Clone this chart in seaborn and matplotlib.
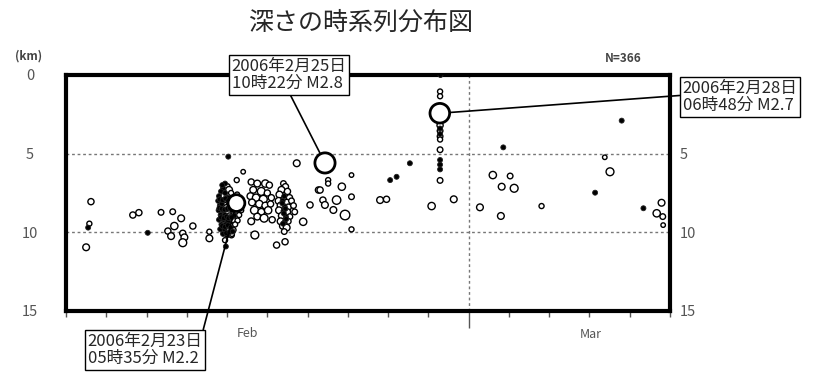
import numpy as np
import pandas as pd
import matplotlib
matplotlib.use("Agg")
import matplotlib.pyplot as plt
import matplotlib.dates as mdates
import matplotlib.transforms as mtransforms
from matplotlib.ticker import NullFormatter
import seaborn as sns

sns.set_style("white")
plt.rcParams["font.family"] = ["Noto Sans CJK JP", "DejaVu Sans"]

# ----------------------------------------------------------
# data : days since 2006-02-19 00:00, depth (km), magnitude
# (magnitude < 0 -> drawn as small filled dot)
# ----------------------------------------------------------
start = pd.Timestamp("2006-02-19")

# scattered events, Feb 19 - Feb 28
scat_t = [0.62, 0.55, 0.58, 0.50, 1.66, 1.81, 2.36, 2.65, 2.86, 2.03, 2.53, 2.61,
          2.69, 2.90, 2.94, 2.90, 3.15, 3.56, 3.56, 4.03, 4.40, 4.24, 5.73, 4.69,
          4.11, 5.23, 5.44, 6.27, 6.38, 6.51, 6.51, 6.31, 6.85, 7.09, 6.72, 6.43,
          6.06, 6.64, 6.93, 5.89, 7.09, 7.09, 7.80, 7.96, 8.05, 8.21, 8.54, 9.08,
          9.63]
scat_d = [8.05, 9.70, 9.45, 10.95, 8.90, 8.75, 8.73, 8.69, 9.11, 10.03, 9.92, 10.24,
          9.60, 10.06, 10.32, 10.66, 9.60, 9.96, 10.38, 5.19, 6.15, 6.68, 5.61, 10.17,
          10.17, 10.81, 10.60, 7.31, 7.95, 6.68, 6.90, 7.31, 7.10, 6.36, 7.95, 8.26,
          8.26, 8.58, 8.90, 9.33, 7.74, 9.81, 7.95, 7.90, 6.68, 6.47, 5.61, 8.33,
          7.90]
scat_m = [0.3, -0.3, 0.1, 0.4, 0.3, 0.3, 0.2, 0.2, 0.4, -0.3, 0.3, 0.4,
          0.5, 0.3, 0.4, 0.6, 0.3, 0.1, 0.4, -0.3, 0.0, 0.1, 0.4, 0.6,
          0.2, 0.3, 0.3, 0.3, 0.3, 0.1, 0.1, 0.3, 0.5, 0.0, 0.7, 0.4,
          0.3, 0.4, 0.9, 0.5, 0.2, 0.1, 0.4, 0.3, -0.2, -0.2, -0.3, 0.5,
          0.4]

# vertical column of Feb 28 sequence
col_t = [9.30, 9.29, 9.29, 9.29, 9.29, 9.29, 9.29, 9.29, 9.29, 9.29, 9.29, 9.29, 9.29, 9.29]
col_d = [0.00, 1.05, 1.35, 3.20, 3.40, 3.55, 3.75, 3.90, 4.10, 4.75, 5.40, 5.70, 6.00, 6.70]
col_m = [-0.3, 0.1, 0.1, 0.3, -0.3, 0.2, -0.3, 0.2, 0.1, 0.2, -0.2, -0.2, -0.2, 0.2]

# March events
mar_t = [10.86, 13.80, 13.38, 13.51, 10.60, 11.03, 10.82, 11.13, 13.14, 11.81, 10.28,
         10.80, 14.34, 14.79, 14.67, 14.82, 14.83]
mar_d = [4.60, 2.90, 5.23, 6.15, 6.36, 6.42, 7.10, 7.20, 7.48, 8.33, 8.41,
         8.96, 8.47, 8.12, 8.79, 9.00, 9.54]
mar_m = [-0.3, -0.2, 0.0, 0.6, 0.5, 0.2, 0.4, 0.6, -0.3, 0.1, 0.4,
         0.4, -0.3, 0.4, 0.5, 0.2, 0.0]

# dense swarm around Feb 23
swA_t = [3.95, 4.00, 3.90, 4.05, 3.85, 3.95, 4.10, 3.80, 3.92, 4.02, 4.15, 3.78, 3.88, 3.98,
         4.08, 4.30, 3.82, 3.93, 4.05, 4.20, 4.33, 3.79, 3.90, 4.00, 4.12, 4.25, 3.84, 3.95,
         4.06, 4.18, 4.30, 3.80, 3.91, 4.02, 4.14, 4.26, 3.86, 3.97, 4.08, 4.20, 3.83, 3.94,
         4.05, 4.16, 3.90, 4.00, 4.12, 3.95, 3.97, 4.25, 4.35, 3.88, 4.10, 3.99, 3.87,
         3.82, 3.89, 3.96, 4.03, 4.09, 4.16, 3.81, 3.87, 3.94, 4.01, 4.07, 4.13, 3.85,
         3.92, 3.99, 4.04, 4.11, 3.88, 3.95, 4.02, 4.09, 3.91, 3.98, 4.06, 4.14]
swA_d = [6.9, 7.1, 7.2, 7.3, 7.4, 7.5, 7.5, 7.7, 7.7, 7.8, 7.8, 8.0, 8.0, 8.1,
         8.0, 8.0, 8.3, 8.3, 8.4, 8.4, 8.3, 8.6, 8.6, 8.7, 8.6, 8.7, 8.9, 8.9,
         9.0, 8.95, 8.9, 9.2, 9.2, 9.3, 9.2, 9.25, 9.5, 9.5, 9.6, 9.5, 9.8, 9.8,
         9.9, 9.85, 10.1, 10.2, 10.1, 10.5, 10.9, 7.6, 8.6, 7.0, 9.0, 8.45, 8.2,
         7.9, 7.95, 7.85, 8.0, 7.9, 8.1, 8.45, 8.5, 8.55, 8.5, 8.45, 8.4, 9.05,
         9.1, 9.0, 9.1, 9.05, 9.6, 9.65, 9.55, 9.7, 10.0, 10.05, 10.0, 9.95]
swA_m = [-0.2, 0.3, -0.3, 0.4, -0.2, -0.3, 0.1, -0.2, 0.4, -0.3, 0.1, -0.2, -0.3, 0.4,
         -0.2, 0.1, -0.3, 0.4, -0.2, 0.1, 0.2, -0.3, -0.4, 0.6, -0.2, 0.1, -0.3, -0.4,
         0.5, -0.2, 0.1, -0.3, -0.4, -0.2, 0.3, 0.1, -0.2, -0.4, 0.3, 0.1, -0.2, -0.3,
         0.4, 0.1, -0.2, -0.3, 0.1, 0.1, -0.2, 0.1, 0.1, -0.2, -0.3, 0.4, -0.3,
         -0.2, -0.1, -0.2, -0.2, -0.3, 0.1, -0.2, -0.2, -0.3, -0.1, -0.2, 0.0, -0.2,
         -0.1, -0.3, -0.2, -0.2, -0.1, -0.2, -0.2, -0.3, 0.0, -0.2, -0.1, -0.3]

swB_t = [4.60, 4.75, 4.95, 5.05, 4.65, 4.85, 5.00, 4.58, 4.72, 4.90, 5.10, 4.62, 4.80, 4.95,
         5.08, 4.68, 4.85, 5.02, 4.75, 4.92, 5.12, 4.60]
swB_d = [6.8, 6.9, 6.9, 7.0, 7.3, 7.4, 7.5, 7.7, 7.8, 7.9, 7.8, 8.1, 8.2, 8.3,
         8.2, 8.6, 8.7, 8.6, 9.0, 9.1, 9.2, 9.3]
swB_m = [0.3, 0.4, 0.5, 0.3, 0.4, 0.6, 0.3, 0.4, 0.5, 0.6, 0.3, 0.4, 0.5, 0.4,
         0.3, 0.6, 0.4, 0.5, 0.4, 0.6, 0.3, 0.4]

swC_t = [5.40, 5.45, 5.35, 5.50, 5.30, 5.42, 5.55, 5.28, 5.38, 5.48, 5.60, 5.33, 5.43, 5.52,
         5.65, 5.29, 5.40, 5.50, 5.36, 5.46, 5.56, 5.33, 5.43, 5.52, 5.38, 5.48, 5.42, 5.68,
         5.37, 5.45, 5.41, 5.47, 5.39]
swC_d = [6.9, 7.1, 7.3, 7.4, 7.6, 7.7, 7.8, 8.0, 8.0, 8.1, 8.0, 8.3, 8.35, 8.4,
         8.3, 8.6, 8.65, 8.7, 8.95, 9.0, 9.0, 9.3, 9.35, 9.3, 9.6, 9.7, 9.95, 8.7,
         8.15, 8.5, 8.8, 9.15, 9.45]
swC_m = [0.2, 0.3, 0.4, 0.3, 0.4, -0.3, 0.3, 0.4, -0.3, 0.3, 0.2, 0.4, -0.3, 0.3,
         0.2, 0.4, -0.3, 0.3, 0.4, -0.3, 0.2, 0.4, -0.3, 0.2, 0.3, 0.4, 0.2, 0.2,
         -0.2, -0.3, -0.2, -0.3, -0.2]

# the three labelled events
big_t = [4.2326, 6.4319, 9.2833]
big_d = [8.14, 5.59, 2.43]
big_m = [2.2, 2.8, 2.7]
big_labels = ["2006年2月23日\n05時35分 M2.2",
              "2006年2月25日\n10時22分 M2.8",
              "2006年2月28日\n06時48分 M2.7"]

n_label = "N=366"
title = "深さの時系列分布図"

# ----------------------------------------------------------
# build table
# ----------------------------------------------------------
df = pd.DataFrame({
    "t": scat_t + col_t + mar_t + swA_t + swB_t + swC_t,
    "depth": scat_d + col_d + mar_d + swA_d + swB_d + swC_d,
    "mag": scat_m + col_m + mar_m + swA_m + swB_m + swC_m,
})
big = pd.DataFrame({"t": big_t, "depth": big_d, "mag": big_m})
for d in (df, big):
    d["time"] = start + pd.to_timedelta(d["t"], unit="D")
    # marker diameter in pixels -> points^2 (dpi 100)
    diam = np.where(d["mag"] < 0, 5.0, 4.5 + 5.6 * d["mag"].clip(lower=0))
    d["s"] = (diam * 0.72) ** 2

opened = df[df["mag"] >= 0]
filled = df[df["mag"] < 0]

# ----------------------------------------------------------
# plot
# ----------------------------------------------------------
fig = plt.figure(figsize=(8.17, 3.74), dpi=100)
ax = fig.add_axes([66 / 817, 63 / 374, 604 / 817, 236 / 374])

grid_kw = dict(color="#777777", lw=1.0, ls=(0, (2, 2)), zorder=1)
ax.axhline(5, **grid_kw)
ax.axhline(10, **grid_kw)
ax.axvline(pd.Timestamp("2006-03-01"), **grid_kw)

sns.scatterplot(data=opened, x="time", y="depth", s=opened["s"].values,
                facecolor="white", edgecolor="black", linewidth=1.0,
                ax=ax, zorder=3, legend=False)
sns.scatterplot(data=filled, x="time", y="depth", s=filled["s"].values,
                facecolor="black", edgecolor="#222222", linewidth=0.6,
                ax=ax, zorder=3, legend=False)
sns.scatterplot(data=big, x="time", y="depth", s=big["s"].values,
                facecolor="white", edgecolor="black", linewidth=2.0,
                ax=ax, zorder=4, legend=False)

ax.set_xlim(start, pd.Timestamp("2006-03-06"))
ax.set_ylim(15, 0)
ax.set_xlabel("")
ax.set_ylabel("")

# x ticks: daily minor, month major (Mar 1)
ax.xaxis.set_major_locator(mdates.MonthLocator())
ax.xaxis.set_minor_locator(mdates.DayLocator())
ax.xaxis.set_major_formatter(NullFormatter())
ax.tick_params(axis="x", which="minor", direction="out", length=4, width=1,
               color="#555555", bottom=True)
ax.tick_params(axis="x", which="major", direction="out", length=12, width=1,
               color="#555555", bottom=True)

trans = mtransforms.blended_transform_factory(ax.transData, ax.transAxes)
ax.text(pd.Timestamp("2006-02-23 12:00"), -0.095, "Feb", transform=trans,
        ha="center", va="center", fontsize=9, color="#555555")
ax.text(pd.Timestamp("2006-03-04 01:00"), -0.10, "Mar", transform=trans,
        ha="center", va="center", fontsize=9, color="#555555")

# y ticks on both sides, no tick marks (right "0" sits under the label box)
ax.set_yticks([0, 5, 10, 15])
ax.set_yticklabels(["0", "5", "10", "15"])
ax.tick_params(axis="y", length=0, pad=26, labelsize=10.5, labelcolor="#555555", left=True)
for lab in ax.get_yticklabels():
    lab.set_ha("center")
sec = ax.secondary_yaxis("right")
sec.set_yticks([5, 10, 15])
sec.set_yticklabels(["5", "10", "15"])
sec.tick_params(axis="y", length=0, pad=7, labelsize=10.5, labelcolor="#555555")
sec.spines["right"].set_visible(False)

for sp in ax.spines.values():
    sp.set_linewidth(3)
    sp.set_color("black")

# texts
fig.text(361 / 817, 1 - 23 / 374, title, ha="center", va="center", fontsize=18)
fig.text(29 / 817, 1 - 56 / 374, "(km)", ha="center", va="center",
         fontsize=8.5, fontweight="bold", color="#444444")
fig.text(623 / 817, 1 - 58 / 374, n_label, ha="center", va="center",
         fontsize=8.5, fontweight="bold", color="#444444")

# annotation boxes (figure pixel positions of box centres)
box_xy = [(145, 374 - 350), (289, 374 - 75), (740, 374 - 97)]
box_rel = [(1.0, 1.0), (0.5, 0.0), (0.0, 0.55)]
box_shrink = [6, 7.5, 7.5]
for i in range(3):
    ax.annotate(big_labels[i], xy=(big["time"][i], big["depth"][i]),
                xytext=box_xy[i], textcoords="figure pixels",
                ha="center", va="center", fontsize=12, linespacing=1.05,
                multialignment="left", annotation_clip=False, zorder=5,
                bbox=dict(boxstyle="square,pad=0.15", fc="white", ec="black", lw=1.0),
                arrowprops=dict(arrowstyle="-", color="black", lw=1.2,
                                relpos=box_rel[i], shrinkA=0, shrinkB=box_shrink[i]))

fig.savefig("out.png", dpi=100)
